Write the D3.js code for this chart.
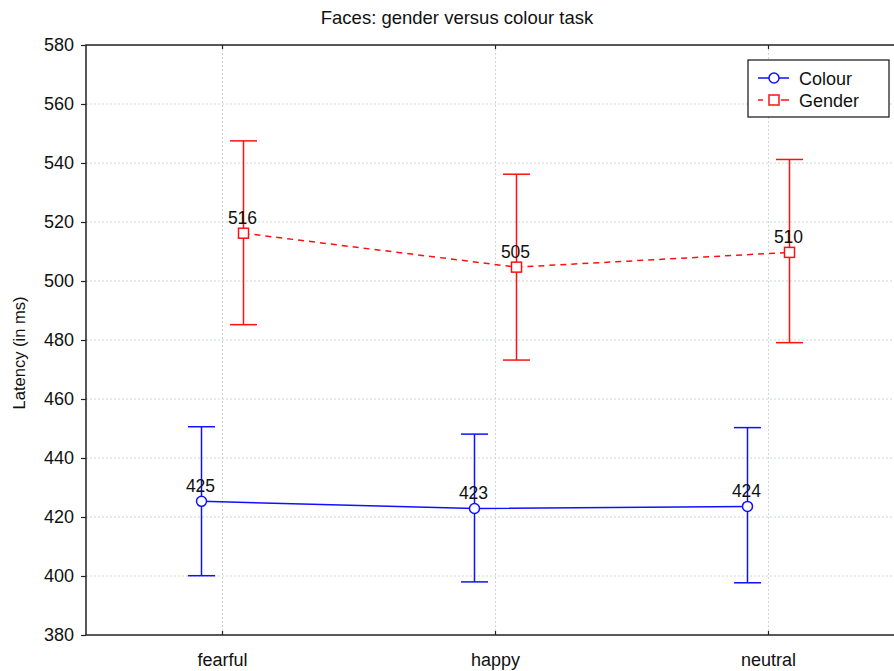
<!DOCTYPE html>
<html>
<head>
<meta charset="utf-8">
<script src="https://cdn.jsdelivr.net/npm/d3@7"></script>
<style>
  body { margin: 0; background: #fff; }
  svg { display: block; font-family: "Liberation Sans", Arial, sans-serif; }
</style>
</head>
<body>
<svg id="chart" width="894" height="671"></svg>
<script>
// Data
const categories = ["fearful", "happy", "neutral"];
const seriesNames = ["Colour", "Gender"];
const colourMean = [425.3, 422.9, 423.6];
const colourLow = [400.1, 398.0, 397.7];
const colourHigh = [450.6, 448.1, 450.3];
const genderMean = [516.2, 504.7, 509.7];
const genderLow = [485.2, 473.2, 479.1];
const genderHigh = [547.5, 536.2, 541.2];
const yTicks = [380, 400, 420, 440, 460, 480, 500, 520, 540, 560, 580];

const svg = d3.select("#chart");
const margin = { left: 86, top: 45, bottom: 36, plotRight: 905 };
const H = 671;

const x = d3.scaleBand().domain(categories).range([margin.left, margin.plotRight]);
const xc = c => x(c) + x.bandwidth() / 2;
const offset = d3.scalePoint().domain(seriesNames).range([-21, 21]);
const y = d3.scaleLinear().domain([380, 580]).range([H - margin.bottom, margin.top]);

const series = [
  { name: "Colour", color: "#1010ff", mean: colourMean, lo: colourLow, hi: colourHigh, dash: null, shape: "circle" },
  { name: "Gender", color: "#ff1010", mean: genderMean, lo: genderLow, hi: genderHigh, dash: "6,5", shape: "square" }
];

// grid
const grid = svg.append("g");
grid.selectAll("line.h").data(yTicks.slice(1, -1)).enter().append("line")
  .attr("x1", margin.left).attr("x2", margin.plotRight)
  .attr("y1", d => y(d)).attr("y2", d => y(d))
  .attr("stroke", "#cfd6d6").attr("stroke-dasharray", "2,2");
grid.selectAll("line.v").data(categories).enter().append("line")
  .attr("x1", xc).attr("x2", xc)
  .attr("y1", y(580)).attr("y2", y(380))
  .attr("stroke", "#cfd6d6").attr("stroke-dasharray", "2,2");

// frame
svg.append("rect").attr("x", margin.left).attr("y", y(580))
  .attr("width", margin.plotRight - margin.left).attr("height", y(380) - y(580))
  .attr("fill", "none").attr("stroke", "#222").attr("stroke-width", 1.5);

// y axis
const yAxis = svg.append("g").attr("transform", `translate(${margin.left},0)`)
  .call(d3.axisLeft(y).tickValues(yTicks).tickSize(5).tickPadding(7).tickFormat(d3.format("d")));
yAxis.select(".domain").remove();
yAxis.selectAll(".tick line").attr("stroke", "#222").attr("stroke-width", 1.2);
yAxis.selectAll("text").attr("font-size", 18).attr("fill", "#111").attr("font-family", "Liberation Sans, Arial, sans-serif");

// x axis (ticks inward, top and bottom)
const xAxis = svg.append("g").attr("transform", `translate(0,${y(380)})`)
  .call(d3.axisBottom(x).tickSize(-4).tickPadding(18));
xAxis.select(".domain").remove();
xAxis.selectAll(".tick line").attr("stroke", "#222").attr("stroke-width", 1.2);
xAxis.selectAll("text").attr("font-size", 18).attr("fill", "#111").attr("font-family", "Liberation Sans, Arial, sans-serif");
const xTop = svg.append("g").attr("transform", `translate(0,${y(580)})`)
  .call(d3.axisTop(x).tickSize(-4).tickFormat(""));
xTop.select(".domain").remove();
xTop.selectAll(".tick line").attr("stroke", "#222").attr("stroke-width", 1.2);

// series
series.forEach(s => {
  const g = svg.append("g");
  const px = i => xc(categories[i]) + offset(s.name);
  const line = d3.line().x((d, i) => px(i)).y(d => y(d));
  g.append("path").datum(s.mean).attr("d", line)
    .attr("fill", "none").attr("stroke", s.color).attr("stroke-width", 1.5)
    .attr("stroke-dasharray", s.dash);

  s.mean.forEach((m, i) => {
    const cx = px(i);
    g.append("line").attr("x1", cx).attr("x2", cx).attr("y1", y(s.lo[i])).attr("y2", y(s.hi[i]))
      .attr("stroke", s.color).attr("stroke-width", 1.5);
    [s.lo[i], s.hi[i]].forEach(v => {
      g.append("line").attr("x1", cx - 13.5).attr("x2", cx + 13.5).attr("y1", y(v)).attr("y2", y(v))
        .attr("stroke", s.color).attr("stroke-width", 1.5);
    });
    if (s.shape === "circle") {
      g.append("circle").attr("cx", cx).attr("cy", y(m)).attr("r", 5)
        .attr("fill", "#fff").attr("stroke", s.color).attr("stroke-width", 1.5);
    } else {
      g.append("rect").attr("x", cx - 5).attr("y", y(m) - 5).attr("width", 10).attr("height", 10)
        .attr("fill", "#fff").attr("stroke", s.color).attr("stroke-width", 1.5);
    }
    g.append("text").attr("x", cx - 1).attr("y", y(m) - 9.5)
      .attr("text-anchor", "middle").attr("font-size", 17.5).attr("fill", "#111")
      .text(Math.round(m));
  });
});

// title
svg.append("text").attr("x", 457).attr("y", 24).attr("text-anchor", "middle")
  .attr("font-size", 18.5).attr("fill", "#111").text("Faces: gender versus colour task");

// y label
svg.append("text").attr("transform", `translate(25,${y(480) + 13}) rotate(-90)`)
  .attr("text-anchor", "middle").attr("font-size", 16.5).attr("fill", "#111")
  .text("Latency (in ms)");

// legend
const lg = svg.append("g").attr("transform", "translate(748,60)");
lg.append("rect").attr("width", 141).attr("height", 57)
  .attr("fill", "#fff").attr("stroke", "#111").attr("stroke-width", 1.2);
series.forEach((s, i) => {
  const ly = 18 + i * 22;
  lg.append("line").attr("x1", 10).attr("x2", 41).attr("y1", ly).attr("y2", ly)
    .attr("stroke", s.color).attr("stroke-width", 1.5).attr("stroke-dasharray", s.dash ? "5,8,5" : null);
  if (s.shape === "circle") {
    lg.append("circle").attr("cx", 26).attr("cy", ly).attr("r", 5)
      .attr("fill", "#fff").attr("stroke", s.color).attr("stroke-width", 1.5);
  } else {
    lg.append("rect").attr("x", 21).attr("y", ly - 5).attr("width", 10).attr("height", 10)
      .attr("fill", "#fff").attr("stroke", s.color).attr("stroke-width", 1.5);
  }
  lg.append("text").attr("x", 51).attr("y", ly + 6.5).attr("font-size", 18).attr("fill", "#111").text(s.name);
});
</script>
</body>
</html>
